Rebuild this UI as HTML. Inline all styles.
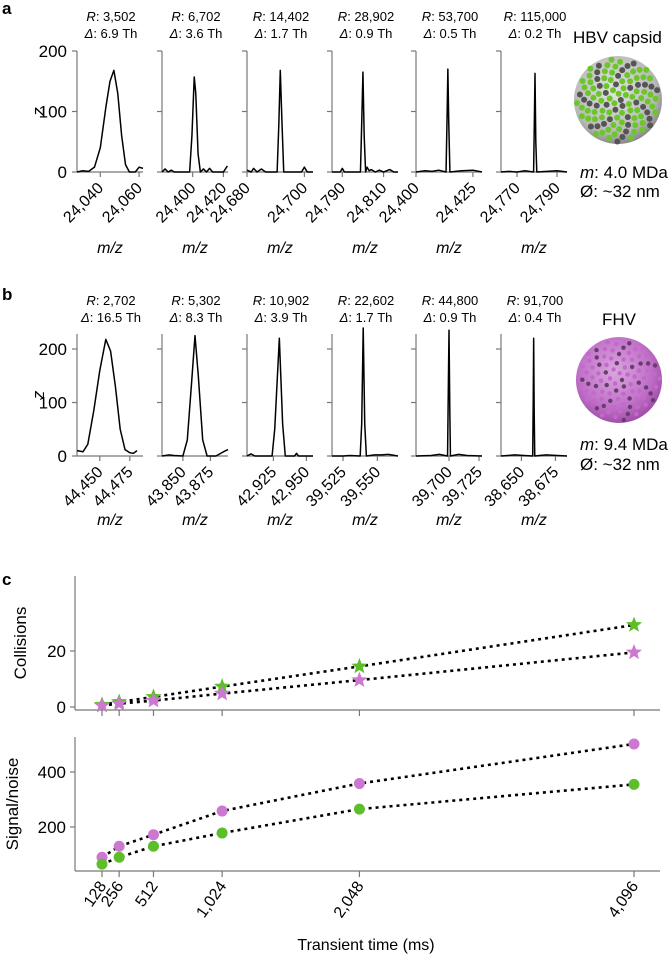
<!DOCTYPE html>
<html><head><meta charset="utf-8">
<style>
html,body{margin:0;padding:0;background:#fff;}
svg{display:block;font-family:"Liberation Sans",sans-serif;}
</style></head>
<body>
<svg id="fig" width="672" height="956" viewBox="0 0 672 956" xmlns="http://www.w3.org/2000/svg">
<defs>
<radialGradient id="hbvg" cx="45%" cy="40%" r="60%"><stop offset="0" stop-color="#e4e4e4"/><stop offset="0.8" stop-color="#b8b8b8"/><stop offset="1" stop-color="#8a8a8a"/></radialGradient>
<radialGradient id="fhvg" cx="45%" cy="40%" r="60%"><stop offset="0" stop-color="#d8a8dc"/><stop offset="0.7" stop-color="#c070c8"/><stop offset="1" stop-color="#a050a8"/></radialGradient>
</defs>
<text x="2" y="14" font-size="17" font-weight="bold">a</text>
<text x="2" y="300" font-size="17" font-weight="bold">b</text>
<text x="2" y="585" font-size="17" font-weight="bold">c</text>
<g id="gA"></g>
<g id="gB"></g>
<g id="gC"></g>
<g>
<text x="573" y="43" font-size="17">HBV capsid</text>
<g id="hbv"><circle cx="618" cy="100" r="44" fill="url(#hbvg)"/></g>
<text x="580" y="178" font-size="17"><tspan font-style="italic">m</tspan>: 4.0 MDa</text>
<text x="580" y="197" font-size="17">Ø: ~32 nm</text>
</g>
<g>
<text x="602" y="325" font-size="17">FHV</text>
<g id="fhv"><circle cx="619" cy="380" r="43" fill="url(#fhvg)"/></g>
<text x="580" y="450" font-size="17"><tspan font-style="italic">m</tspan>: 9.4 MDa</text>
<text x="580" y="470" font-size="17">Ø: ~32 nm</text>
</g>
</svg>
<script>
// ---------- Panel a/b data ----------
const aRes = ["3,502","6,702","14,402","28,902","53,700","115,000"];
const aDelta = ["6.9","3.6","1.7","0.9","0.5","0.2"];
const aRange = [[24028,24062],[24380,24423],[24680,24703],[24785,24817],[24400,24429],[24762,24795]];
const aTicks = [[24040,24060],[24400,24420],[24680,24700],[24790,24810],[24400,24425],[24770,24790]];
const aSpec = [
 [[24028,0],[24031,2],[24034,1],[24037,8],[24040,40],[24043,110],[24045,150],[24047,168],[24049,130],[24051,60],[24053,12],[24055,0],[24058,0],[24060,8],[24062,6]],
 [[24380,0],[24382,5],[24384,0],[24386,3],[24388,0],[24398,0],[24399.5,60],[24401,157],[24402,130],[24403.5,30],[24405,0],[24407,5],[24409,0],[24411,6],[24413,0],[24420,0],[24422.6,10]],
 [[24680,3],[24681.5,0],[24682.3,6],[24683.5,0],[24685,5],[24686.5,0],[24690.5,0],[24691.1,80],[24691.6,168],[24692.2,80],[24692.8,0],[24699,0],[24700,8],[24701,0],[24703,0]],
 [[24785,0],[24789,0],[24790,6],[24791,0],[24798.8,0],[24799.4,80],[24800,165],[24800.6,60],[24801.3,0],[24802,8],[24803,2],[24804,4],[24806,0],[24808,3],[24810,0],[24813,4],[24815,0],[24817,0]],
 [[24400,0],[24404,2],[24407,1],[24410,3],[24413.2,0],[24413.7,100],[24414,170],[24414.4,80],[24414.9,0],[24420,2],[24425,3],[24429,0]],
 [[24762,0],[24766,1],[24770,0],[24774,2],[24778.3,0],[24778.7,90],[24779,163],[24779.4,50],[24779.9,0],[24785,1],[24790,2],[24795,0]]
];
const bRes = ["2,702","5,302","10,902","22,602","44,800","91,700"];
const bDelta = ["16.5","8.3","3.9","1.7","0.9","0.4"];
const bRange = [[44431,44486],[43831,43891],[42905,42955],[39517,39565],[39672.5,39727.5],[38635,38683.5]];
const bTicks = [[44450,44475],[43850,43875],[42925,42950],[39525,39550],[39700,39725],[38650,38675]];
const bSpec = [
 [[44431,10],[44436,8],[44440,22],[44445,85],[44450,160],[44455,218],[44459,196],[44463,130],[44467,50],[44471,12],[44475,6],[44478,5],[44481,10]],
 [[43831,0],[43837,2],[43842,1],[43850,0],[43854,30],[43858,140],[43861,225],[43864,150],[43868,30],[43872,0],[43880,0],[43887,8],[43891,12]],
 [[42905,0],[42908,4],[42911,0],[42924,0],[42926,50],[42929.5,220],[42932,60],[42934,0],[42941,0],[42942.5,5],[42944,0],[42955,0]],
 [[39517,0],[39525,0],[39530,1],[39537.5,0],[39538.6,60],[39539.7,240],[39540.8,60],[39542,0],[39548,2],[39553,2],[39558,3],[39565,0]],
 [[39672.5,0],[39685,1],[39692,3],[39698.8,0],[39699.3,100],[39700,235],[39700.7,80],[39701.2,0],[39708,3],[39715,1],[39727.5,0]],
 [[38635,0],[38645,2],[38652,1],[38658.3,0],[38658.7,110],[38659,220],[38659.4,80],[38659.8,0],[38668,2],[38683.5,0]]
];
const yTicksA = [0,100,200];
const yTicksB = [0,100,200];
// ---------- Panel c data ----------
const times = [128,256,512,1024,2048,4096];
const timeLabels = ["128","256","512","1,024","2,048","4,096"];
const collGreen = [0.8,1.8,3.6,7.3,14.5,29.3];
const collPurple = [0.5,1.2,2.3,4.8,9.6,19.5];
const snPurple = [90,130,172,258,358,502];
const snGreen = [65,90,130,178,265,355];
const collTicks = [0,20];
const snTicks = [200,400];

const NS="http://www.w3.org/2000/svg";
function mk(tag, attrs, parent){const e=document.createElementNS(NS,tag);for(const k in attrs)e.setAttribute(k,attrs[k]);parent.appendChild(e);return e;}
const GREEN="#5cbf2a", PURPLE="#cc78d0", AX="#777";
const lefts=[77,162,247,332,416,501], PW=66;

function spectrumPanel(g, res, delta, ranges, ticks, specs, yTicks, y0, yPerUnit, yTopPx, mzY, labY, key){
  for(let i=0;i<6;i++){
    const L=lefts[i], R=L+PW;
    const xs=v=>L+(v-ranges[i][0])/(ranges[i][1]-ranges[i][0])*PW;
    const ys=v=>Math.max(yTopPx-6, y0-v*yPerUnit);
    const pg=mk('g',{},g);
    
    
    const ann=mk('text',{x:L+34,y:labY,'font-size':13,'text-anchor':'middle'},pg);
    
    
    ann.innerHTML='<tspan font-style="italic">R</tspan>: '+res[i];
    const ann2=mk('text',{x:L+34,y:labY+17,'font-size':13,'text-anchor':'middle'},pg);
    
    
    ann2.innerHTML='<tspan font-style="italic">Δ</tspan>: '+delta[i]+' Th';
    const ya=mk('line',{x1:L,y1:yTopPx,x2:L,y2:y0,stroke:AX,'stroke-width':1.2},pg);
    
    
    const xa=mk('line',{x1:L,y1:y0,x2:R,y2:y0,stroke:AX,'stroke-width':1.2},pg);
    
    
    yTicks.forEach(t=>{
      const yy=y0-t*yPerUnit;
      mk('line',{x1:L-5,y1:yy,x2:L,y2:yy,stroke:AX,'stroke-width':1.2},pg);
      if(i===0){
        const tl=mk('text',{x:L-10,y:yy+6,'font-size':17,'text-anchor':'end'},pg);
        
        
        tl.textContent=t;
      }
    });
    ticks[i].forEach(t=>{
      const xx=xs(t);
      mk('line',{x1:xx,y1:y0,x2:xx,y2:y0+5,stroke:AX,'stroke-width':1.2},pg);
      const tl=mk('text',{x:xx+4,y:y0+17,'font-size':16,'text-anchor':'end',transform:`rotate(-45 ${xx+4} ${y0+17})`},pg);
      
      
      tl.textContent=t.toLocaleString('en-US');
    });
    const d=specs[i].map((p,j)=>(j?'L':'M')+xs(p[0]).toFixed(2)+' '+ys(p[1]).toFixed(2)).join(' ');
    const ln=mk('path',{d:d,fill:'none',stroke:'#000','stroke-width':1.5,'stroke-linejoin':'round'},pg);
    
    
    const mt=mk('text',{x:L+33,y:mzY,'font-size':16,'text-anchor':'middle','font-style':'italic'},pg);
    
    
    mt.textContent='m/z';
  }
  const yt=mk('text',{x:44,y:(y0+yTopPx)/2,'font-size':17,'font-style':'italic','text-anchor':'middle',transform:`rotate(-90 44 ${(y0+yTopPx)/2})`},g);
  
  
  yt.textContent='z';
}
spectrumPanel(document.getElementById('gA'),aRes,aDelta,aRange,aTicks,aSpec,yTicksA,172,121/200,51,253,21,'hbv');
spectrumPanel(document.getElementById('gB'),bRes,bDelta,bRange,bTicks,bSpec,yTicksB,456,107/200,334,525,305,'fhv');

// ---------- Panel c ----------
const gC=document.getElementById('gC');
const xT=t=>102+(t-128)*(634-102)/(4096-128);
const yColl=v=>707-v*2.8;
const ySN=v=>827-(v-200)*55/200;
function axes(top,bot,ticks,ys,title,tx){
  const a=mk('line',{x1:75,y1:top,x2:75,y2:bot,stroke:AX,'stroke-width':1.2},gC);
  
  
  const b=mk('line',{x1:75,y1:bot,x2:660,y2:bot,stroke:AX,'stroke-width':1.2},gC);
  
  
  ticks.forEach(t=>{const yy=ys(t);mk('line',{x1:70,y1:yy,x2:75,y2:yy,stroke:AX,'stroke-width':1.2},gC);
    const tl=mk('text',{x:66,y:yy+6,'font-size':17,'text-anchor':'end'},gC);
    
    
    tl.textContent=t;});
  times.forEach(t=>mk('line',{x1:xT(t),y1:bot,x2:xT(t),y2:bot+6,stroke:AX,'stroke-width':1.2},gC));
  const cy=(top+bot)/2;
  const yt=mk('text',{x:tx,y:cy,'font-size':17,'text-anchor':'middle',transform:`rotate(-90 ${tx} ${cy})`},gC);
  
  
  yt.textContent=title;
}
axes(576,710,collTicks,yColl,'Collisions',26);
axes(737,871,snTicks,ySN,'Signal/noise',18);
function series(vals,ys,color,shape,name){
  const d=vals.map((v,i)=>(i?'L':'M')+xT(times[i]).toFixed(1)+' '+ys(v).toFixed(1)).join(' ');
  const l=mk('path',{d:d,fill:'none',stroke:'#000','stroke-width':2.6,'stroke-dasharray':'3 4'},gC);
  
  
  vals.forEach((v,i)=>{
    const cx=xT(times[i]), cy=ys(v);
    let m;
    if(shape==='star'){
      let pts=[];for(let k=0;k<10;k++){const r=k%2?3.6:8.5;const a=-Math.PI/2+k*Math.PI/5;pts.push((cx+r*Math.cos(a)).toFixed(1)+','+(cy+r*Math.sin(a)).toFixed(1));}
      m=mk('polygon',{points:pts.join(' '),fill:color},gC);
    } else m=mk('circle',{cx:cx,cy:cy,r:5.5,fill:color},gC);
    
    
  });
}
series(collGreen,yColl,GREEN,'star','hbv-collisions');
series(collPurple,yColl,PURPLE,'star','fhv-collisions');
series(snPurple,ySN,PURPLE,'circle','fhv-signal-noise');
series(snGreen,ySN,GREEN,'circle','hbv-signal-noise');
times.forEach((t,i)=>{
  const xx=xT(t)+5, yy=886;
  const tl=mk('text',{x:xx,y:yy,'font-size':16,'text-anchor':'end',transform:`rotate(-55 ${xx} ${yy})`},gC);
  
  
  tl.textContent=timeLabels[i];
});
const xt=mk('text',{x:366,y:950,'font-size':16,'text-anchor':'middle'},gC);


xt.textContent='Transient time (ms)';

// virus decoration
function dots(id,cx,cy,R,n,c1,c2,rr){
  const g=document.getElementById(id);
  for(let k=0;k<n;k++){
    const a=k*2.39996, r=R*0.95*Math.sqrt((k+0.5)/n);
    mk('circle',{cx:(cx+r*Math.cos(a)).toFixed(1),cy:(cy+r*Math.sin(a)).toFixed(1),r:rr,fill:k%3===0?c2:c1},g);
  }
}
dots('hbv',618,100,44,110,'#6cc62a','#555',3.0);
dots('fhv',619,380,43,90,'#c468cc','#6a3a70',2.2);
</script>
</body></html>
